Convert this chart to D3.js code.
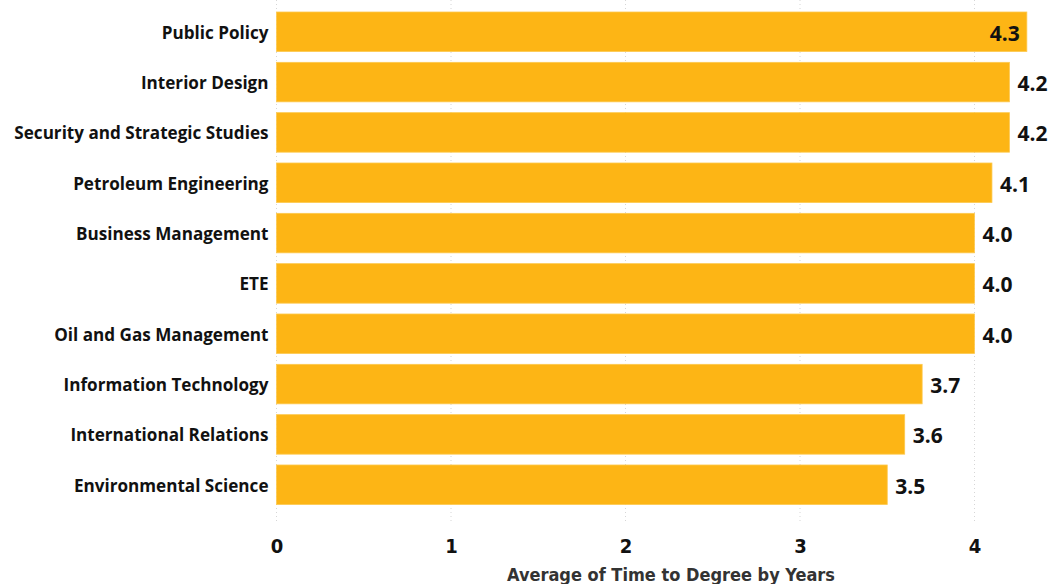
<!DOCTYPE html>
<html>
<head>
<meta charset="utf-8">
<script src="https://cdn.jsdelivr.net/npm/d3@7"></script>
<style>
    body { margin: 0; background: #fff; }
    svg { display: block; }
</style>
</head>
<body>
<div id="chart"></div>
<script>
const categories = [
    "Public Policy",
    "Interior Design",
    "Security and Strategic Studies",
    "Petroleum Engineering",
    "Business Management",
    "ETE",
    "Oil and Gas Management",
    "Information Technology",
    "International Relations",
    "Environmental Science",
];
const values = [4.3, 4.2, 4.2, 4.1, 4.0, 4.0, 4.0, 3.7, 3.6, 3.5];
const xTicks = [0, 1, 2, 3, 4];
const axisTitle = "Average of Time to Degree by Years";

const W = 1052, H = 584;
const margin = { top: 12, right: 0, bottom: 80, left: 276.5 };

const svg = d3.select("#chart")
    .append("svg")
    .attr("width", W)
    .attr("height", H);

// scales
const xScale = d3.scaleLinear()
    .domain([0, 4])
    .range([margin.left, 974.5]);

const yScale = d3.scaleBand()
    .domain(categories)
    .range([12, 504.5])
    .paddingInner(0.215)
    .paddingOuter(0);

// gridlines
svg.append("g")
    .selectAll("line")
    .data(xTicks)
    .join("line")
    .attr("x1", (d) => xScale(d))
    .attr("x2", (d) => xScale(d))
    .attr("y1", 0)
    .attr("y2", 522)
    .attr("stroke", "#d6d6d6")
    .attr("stroke-width", 1)
    .attr("stroke-dasharray", "1,3");

// x axis
const xAxis = d3.axisBottom(xScale)
    .tickValues(xTicks)
    .tickSize(0)
    .tickPadding(0)
    .tickFormat(d3.format("d"));

const gx = svg.append("g")
    .attr("transform", "translate(0,553)")
    .call(xAxis);
gx.select(".domain").remove();
gx.selectAll("text")
    .attr("dy", 0)
    .attr("fill", "#111")
    .style("font-family", "'DejaVu Sans Condensed', 'DejaVu Sans', sans-serif")
    .style("font-weight", "bold")
    .style("font-size", "20px");

// y axis
const yAxis = d3.axisLeft(yScale).tickSize(0).tickPadding(8);
const gy = svg.append("g")
    .attr("transform", `translate(${margin.left},1.5)`)
    .call(yAxis);
gy.select(".domain").remove();
gy.selectAll("text")
    .attr("fill", "#111")
    .style("font-family", "'Open Sans', sans-serif")
    .style("font-weight", "bold")
    .style("font-size", "17.1px");

// bars
svg.append("g")
    .selectAll("rect")
    .data(values)
    .join("rect")
    .attr("x", xScale(0))
    .attr("y", (d, i) => yScale(categories[i]))
    .attr("width", (d) => xScale(d) - xScale(0))
    .attr("height", yScale.bandwidth())
    .attr("fill", "#FDB515")
    .attr("stroke", "#FDC94F")
    .attr("stroke-width", 0.8);

// value labels
const fmt = d3.format(".1f");
svg.append("g")
    .selectAll("text")
    .data(values)
    .join("text")
    .attr("x", (d) => d >= 4.3 ? xScale(d) - 7 : xScale(d) + 8)
    .attr("y", (d, i) => yScale(categories[i]) + yScale.bandwidth() / 2 + 1.5)
    .attr("dy", "0.36em")
    .attr("text-anchor", (d) => d >= 4.3 ? "end" : "start")
    .attr("fill", "#111")
    .style("font-family", "'Open Sans', sans-serif")
    .style("font-weight", "bold")
    .style("font-size", "21px")
    .text((d) => fmt(d));

// axis title
svg.append("text")
    .attr("x", 671)
    .attr("y", 581)
    .attr("text-anchor", "middle")
    .attr("fill", "#333")
    .style("font-family", "'DejaVu Sans Condensed', 'DejaVu Sans', sans-serif")
    .style("font-weight", "bold")
    .style("font-size", "18px")
    .text(axisTitle);
</script>
</body>
</html>
